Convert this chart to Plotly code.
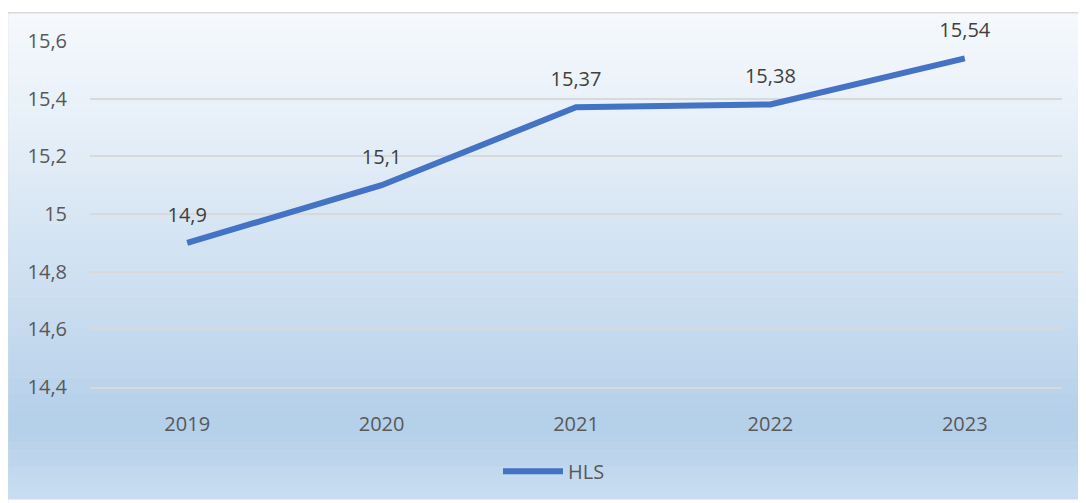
import plotly.graph_objects as go

years = ["2019", "2020", "2021", "2022", "2023"]
hls = [14.9, 15.1, 15.37, 15.38, 15.54]
y_ticks = [14.4, 14.6, 14.8, 15.0, 15.2, 15.4, 15.6]

# page body has an 8px margin, so the figure is drawn 8px smaller and
# left/top positions are shifted by OFF
OFF = 8
W, H = 1086 - OFF, 503 - OFF
L, R, T, B = 90 - OFF, 24, 41 - OFF, 113
PW, PH = W - L - R, H - T - B


def px_x(x):
    return (x - OFF - L) / PW


def px_y(y):
    return 1 - (y - OFF - T) / PH


def lerp(c1, c2, t):
    return tuple(round(a + (b - a) * t) for a, b in zip(c1, c2))


# Excel-like light blue gradient behind the chart
stops = [(12, (246, 249, 253)), (150, (227, 237, 247)), (300, (203, 222, 240)),
         (430, (180, 207, 233)), (503, (201, 222, 242))]
shapes = []
n = 60
for i in range(n):
    y0 = 12 + (503 - 12) * i / n
    y1 = 12 + (503 - 12) * (i + 1) / n
    ym = (y0 + y1) / 2
    for (a, ca), (b, cb) in zip(stops, stops[1:]):
        if a <= ym <= b:
            c = lerp(ca, cb, (ym - a) / (b - a))
            break
    shapes.append(dict(type="rect", xref="paper", yref="paper", layer="below",
                       x0=px_x(7), x1=px_x(1090), y0=px_y(y1 + 0.5), y1=px_y(y0),
                       fillcolor="rgb(%d,%d,%d)" % c, line=dict(width=0)))
shapes.append(dict(type="rect", xref="paper", yref="paper", layer="below",
                   x0=px_x(7.5), x1=px_x(1095), y0=px_y(520), y1=px_y(12.5),
                   line=dict(color="#D9D9D9", width=1.5)))

fig = go.Figure()
fig.add_trace(go.Scatter(
    x=years, y=hls, mode="lines+markers+text", name="HLS",
    line=dict(color="#4472C4", width=6),
    marker=dict(size=24, color="rgba(0,0,0,0)"),
    text=[str(v).replace(".", ",") for v in hls],
    textposition="top center",
    textfont=dict(size=20, color="#404040"),
    cliponaxis=False,
))
fig.update_layout(
    width=W, height=H,
    margin=dict(l=L, r=R, t=T, b=B),
    paper_bgcolor="white",
    plot_bgcolor="rgba(0,0,0,0)",
    font=dict(family="Open Sans", color="#595959", size=20),
    separators=",.",
    shapes=shapes,
    showlegend=True,
    legend=dict(orientation="h", x=0.5 - 22 / PW, xanchor="center", y=px_y(475),
                yanchor="middle", bgcolor="rgba(0,0,0,0)",
                font=dict(size=20, color="#595959"), itemwidth=60),
    xaxis=dict(range=[-0.5, 4.5], showgrid=False, showline=True,
               linecolor="#D9D9D9", linewidth=2,
               ticks="outside", ticklen=18, tickcolor="rgba(0,0,0,0)"),
    yaxis=dict(range=[14.4, 15.6], tickvals=y_ticks, showgrid=True,
               gridcolor="#D9D9D9", gridwidth=2, zeroline=False,
               ticks="outside", ticklen=18, tickcolor="rgba(0,0,0,0)"),
)
fig.write_html("out.html")
